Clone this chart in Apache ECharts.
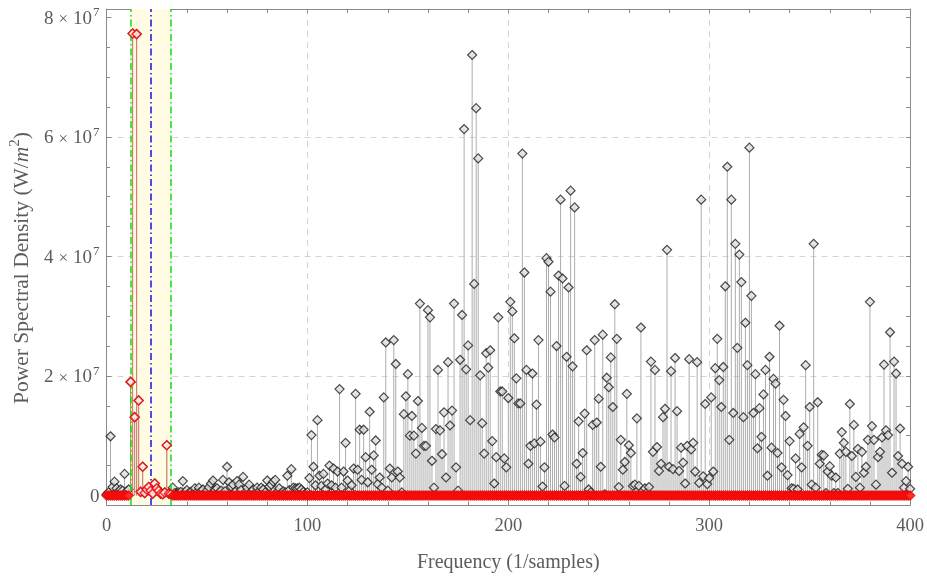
<!DOCTYPE html>
<html><head><meta charset="utf-8">
<script src="https://cdn.jsdelivr.net/npm/echarts@6/dist/echarts.min.js"></script>
<style>html,body{margin:0;padding:0;background:#fff}#c{width:927px;height:578px}</style>
</head><body><div id="c"></div>
<script>
// Power spectral density, units of 1e6 W/m^2, one value per integer frequency bin 0..400
const freqStart = 0;
const freqStep = 1;
const psd = [
0.2,0.5,9.9,1.4,2.3,1.2,0.6,1.0,0.8,3.6,
0.7,1.0,19.0,77.3,13.1,77.2,15.9,0.6,4.8,0.4,
1.0,1.4,0.8,0.3,2.0,1.2,0.8,0.3,0.2,0.5,
8.4,0.3,0.2,1.3,0.4,0.3,0.5,0.6,2.4,0.5,
0.9,0.4,0.6,0.3,1.2,0.5,1.3,0.7,1.0,0.4,
0.8,1.4,2.0,2.5,0.9,1.2,0.5,0.8,2.6,0.7,
4.8,2.2,1.5,1.8,0.6,2.4,1.8,0.9,3.1,0.5,
1.3,1.8,0.6,1.0,0.4,1.3,0.7,1.3,1.0,0.5,
2.5,1.5,1.8,2.3,2.6,0.6,1.2,0.4,0.7,0.5,
3.3,0.9,4.4,1.3,1.2,1.2,1.3,1.0,0.6,0.3,
0.5,2.9,10.1,4.8,1.7,12.6,3.3,1.6,3.6,1.0,
2.0,5.0,1.7,4.5,1.3,4.0,17.8,1.3,4.0,8.8,
2.5,0.8,1.7,4.5,17.0,4.3,11.0,2.6,11.0,6.4,
2.2,14.0,4.3,6.7,9.2,1.9,3.0,1.3,16.4,25.6,
0.8,4.5,3.0,26.0,22.0,4.0,3.0,0.5,13.6,16.6,
20.3,10.0,13.3,10.0,7.0,15.8,32.1,11.3,8.3,8.3,
31.0,29.8,5.8,1.3,11.1,21.0,10.9,6.9,13.9,3.0,
22.3,11.7,14.2,32.1,4.7,0.8,22.7,30.2,61.3,21.1,
25.1,12.6,73.7,35.4,64.8,56.4,20.1,12.1,7.0,23.8,
21.4,24.3,9.1,2.0,6.4,29.8,17.4,17.4,6.2,4.7,
16.3,32.4,30.8,26.3,19.6,15.4,15.4,57.2,37.3,21.0,
5.3,8.3,20.4,8.7,15.2,26.0,9.0,1.5,4.7,39.7,
39.1,34.1,10.2,9.7,25.0,36.8,49.5,36.3,1.6,23.2,
34.8,51.0,21.6,48.2,5.3,12.4,3.1,7.1,13.7,24.3,
1.0,0.5,11.8,26.0,12.2,16.2,4.8,26.9,0.2,19.7,
18.1,23.1,14.8,32.0,26.2,1.4,9.3,4.3,5.6,17.0,
8.4,7.1,1.6,1.8,12.9,1.6,28.1,0.8,1.2,0.5,
1.4,22.4,7.3,21.0,8.1,4.1,5.3,13.1,14.5,41.1,
4.8,20.8,4.4,23.0,14.1,4.1,8.0,5.5,2.0,8.3,
22.8,7.7,8.8,4.0,22.3,2.1,49.5,3.2,15.3,1.9,
2.9,16.4,4.0,21.3,26.2,19.3,14.8,21.5,35.0,55.0,
9.3,49.5,13.8,42.1,24.7,40.3,35.7,13.1,28.9,21.8,
58.2,33.4,13.8,20.3,7.9,14.6,9.8,16.9,21.0,3.3,
23.2,8.0,19.5,18.7,7.1,28.4,4.7,16.0,13.3,3.4,
9.1,1.2,1.1,6.2,1.0,10.3,4.7,11.4,21.8,8.3,
14.8,1.8,42.1,1.3,15.6,5.3,6.8,6.7,0.4,4.0,
4.9,3.3,0.4,3.0,0.4,7.0,10.6,8.8,7.3,1.1,
15.3,6.6,11.8,3.1,7.8,1.3,7.3,3.8,4.8,9.3,
32.4,11.6,9.3,1.8,6.4,7.3,9.7,21.9,10.9,10.1,
27.3,3.8,22.4,20.4,6.6,11.2,5.3,1.3,2.4,4.8,
1.1
];
// pass band (red = filtered spectrum: kept inside band, zero outside)
const bandLow = 12;
const bandHigh = 32;
const bandCenter = 22;

const xMajor = [0,100,200,300,400];
const xMinor = [20,40,60,80,120,140,160,180,220,240,260,280,320,340,360,380];
const yMajor = [0,20,40,60,80];
const yMinor = [5,10,15,25,30,35,45,50,55,65,70,75];
const yGrid = [20,40,60];
const xTitle = 'Frequency (1/samples)';

const freqs = psd.map((_, i) => freqStart + i * freqStep);
const blackData = freqs.map((f, i) => [f, psd[i]]);
const redData = freqs.map((f, i) => [f, (f >= bandLow && f <= bandHigh) ? psd[i] : 0]);

const FONT = '"Liberation Serif", "DejaVu Serif", serif';
const TXT = '#5c5c5c';
const AX = '#8a8a8a';

const chart = echarts.init(document.getElementById('c'), null, {renderer: 'canvas'});

function stems(data, color, z) {
  return {
    type: 'custom', data, z, silent: true, clip: true,
    xAxisIndex: 0, yAxisIndex: 0,
    encode: {x: 0, y: 1},
    renderItem(params, api) {
      const x = api.value(0), y = api.value(1);
      const p0 = api.coord([x, 0]), p1 = api.coord([x, y]);
      return {type: 'line', shape: {x1: p0[0], y1: p0[1], x2: p1[0], y2: p1[1]},
        style: {stroke: color, lineWidth: 1}};
    }
  };
}
const xRange = {min: 0, max: 400};
const yRange = {min: -1.6, max: 81.4};
const dashDot = [7, 3, 1.5, 3];

chart.setOption({
  animation: false,
  grid: {left: 106.5, right: 15.5, top: 9, bottom: 70, containLabel: false},
  xAxis: [
    Object.assign({type: 'value', position: 'bottom',
      axisLine: {show: true, onZero: false, lineStyle: {color: AX, width: 1}},
      axisTick: {show: true, inside: true, length: 5, customValues: xMajor, lineStyle: {color: AX}},
      axisLabel: {show: true, customValues: xMajor, margin: 12, color: TXT, fontFamily: FONT, fontSize: 18.5},
      splitLine: {show: true, lineStyle: {color: '#d4d4d4', type: [6, 5], width: 1}},
      name: xTitle, nameLocation: 'middle', nameGap: 48,
      nameTextStyle: {color: TXT, fontFamily: FONT, fontSize: 20}
    }, xRange),
    Object.assign({type: 'value', position: 'bottom',
      axisLine: {show: false, onZero: false},
      axisTick: {show: true, inside: true, length: 3.5, customValues: xMinor, lineStyle: {color: AX}},
      axisLabel: {show: false}, splitLine: {show: false}
    }, xRange),
    Object.assign({type: 'value', position: 'top',
      axisLine: {show: true, onZero: false, lineStyle: {color: AX, width: 1}},
      axisTick: {show: true, inside: true, length: 4, customValues: xMajor.concat(xMinor), lineStyle: {color: AX}},
      axisLabel: {show: false}, splitLine: {show: false}
    }, xRange)
  ],
  yAxis: [
    Object.assign({type: 'value', position: 'left',
      axisLine: {show: true, onZero: false, lineStyle: {color: AX, width: 1}},
      axisTick: {show: true, inside: true, length: 5, customValues: yMajor, lineStyle: {color: AX}},
      axisLabel: {show: true, customValues: yMajor, margin: 7, color: TXT, fontFamily: FONT,
        formatter: v => v === 0 ? '{n|0}' : '{n|' + (v / 10) + '}{x|×}{n|10}{s|7}',
        rich: {
          n: {fontFamily: FONT, fontSize: 19, color: TXT, lineHeight: 22, verticalAlign: 'bottom'},
          x: {fontFamily: FONT, fontSize: 17, color: TXT, lineHeight: 22, verticalAlign: 'bottom', padding: [0, 5, 0, 5]},
          s: {fontFamily: FONT, fontSize: 13, color: TXT, lineHeight: 13, verticalAlign: 'top', padding: [0, 0, 0, 1]}
        }},
      splitLine: {show: false},
      name: '{t|Power Spectral Density (W/}{i|m}{s|2}{t|)}', nameLocation: 'middle', nameGap: 66, nameRotate: 90,
      nameTextStyle: {color: TXT, fontFamily: FONT, fontSize: 21.5, padding: [0, 22, 0, 0],
        rich: {
          t: {fontFamily: FONT, fontSize: 21.5, color: TXT, lineHeight: 25, verticalAlign: 'bottom'},
          i: {fontFamily: FONT, fontSize: 21.5, color: TXT, fontStyle: 'italic', lineHeight: 25, verticalAlign: 'bottom'},
          s: {fontFamily: FONT, fontSize: 15, color: TXT, lineHeight: 15, verticalAlign: 'top'}
        }}
    }, yRange),
    Object.assign({type: 'value', position: 'left',
      axisLine: {show: false, onZero: false},
      axisTick: {show: true, inside: true, length: 3.5, customValues: yMinor, lineStyle: {color: AX}},
      axisLabel: {show: false}, splitLine: {show: false}
    }, yRange),
    Object.assign({type: 'value', position: 'right',
      axisLine: {show: true, onZero: false, lineStyle: {color: AX, width: 1}},
      axisTick: {show: true, inside: true, length: 4, customValues: yMajor.concat(yMinor), lineStyle: {color: AX}},
      axisLabel: {show: false}, splitLine: {show: false}
    }, yRange),
    Object.assign({type: 'value', position: 'left',
      axisLine: {show: false, onZero: false},
      axisTick: {show: false, customValues: yGrid},
      axisLabel: {show: false},
      splitLine: {show: true, lineStyle: {color: '#d4d4d4', type: [6, 5], width: 1}}
    }, yRange)
  ],
  series: [
    {type: 'line', data: [], z: 1, silent: true, xAxisIndex: 0, yAxisIndex: 0,
      markArea: {silent: true, itemStyle: {color: '#fffce3'},
        data: [[{xAxis: bandLow}, {xAxis: bandHigh}]]}},
    stems(blackData, '#adadad', 2),
    {type: 'scatter', data: blackData, z: 3, silent: true, symbol: 'diamond', symbolSize: 9,
      itemStyle: {color: '#e0e0e0', borderColor: '#1e1e1e', borderWidth: 1.2}},
    stems(redData, '#d27e6c', 4),
    {type: 'scatter', data: redData, z: 5, silent: true, symbol: 'diamond', symbolSize: 9,
      itemStyle: {color: p => (p.value[1] === 0 ? '#ff3030' : '#fff0f0'), borderColor: '#f00000', borderWidth: 1.5}},
    {type: 'line', data: [], z: 6, silent: true, xAxisIndex: 0, yAxisIndex: 0,
      markLine: {silent: true, symbol: 'none', label: {show: false},
        data: [
          {xAxis: bandLow, lineStyle: {color: '#11dd11', width: 1.5, type: dashDot}},
          {xAxis: bandHigh, lineStyle: {color: '#11dd11', width: 1.5, type: dashDot}},
          {xAxis: bandCenter, lineStyle: {color: '#1010ee', width: 1.5, type: dashDot}}
        ]}}
  ]
});
</script></body></html>
